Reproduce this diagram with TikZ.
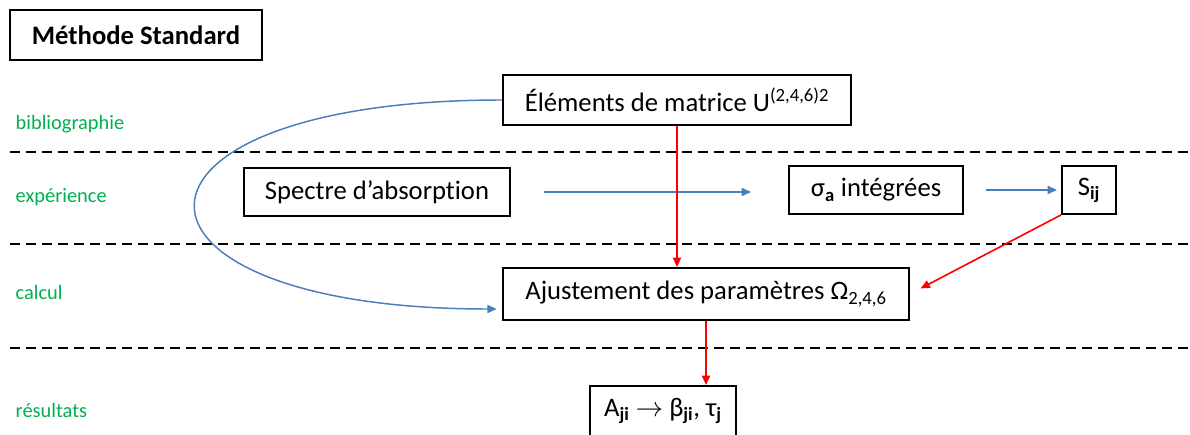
\documentclass[tikz,border=0pt]{standalone}
\usepackage{fontspec}
\setmainfont{Carlito}[Ligatures=NoCommon]
\usetikzlibrary{arrows.meta, positioning}
\definecolor{flowblue}{RGB}{74,126,187}
\definecolor{lanegreen}{RGB}{0,176,80}
\tikzset{
  box/.style={draw, line width=1.4pt, align=center, inner sep=2pt, font=\fontsize{20}{24}\selectfont},
  title/.style={draw, line width=1.4pt, align=center, font=\fontsize{20}{24}\selectfont\bfseries},
  lanelabel/.style={anchor=west, text=lanegreen, font=\fontsize{15.3}{18}\selectfont},
  lane/.style={line width=1.5pt, dash pattern=on 7.5pt off 4.5pt},
  flow/.style={-{Triangle[length=7pt, width=6pt]}, line width=1.1pt, flowblue},
  cause/.style={-{Triangle[length=7pt, width=6pt]}, line width=1.2pt, red},
}

\begin{document}
\begin{tikzpicture}[x=0.75pt, y=-0.75pt]
    \useasboundingbox (0,0) rectangle (1190,435);

    % separations
    \foreach \y in {152,244,348}
        \draw[lane] (10,\y) -- (1190,\y);

    \node[title, minimum width=189pt, minimum height=37.5pt] (method) at (136,35) {Méthode Standard};

    \node[lanelabel] (biblio) at (11,124) {bibliographie};
    \node[lanelabel] (exper) at (11,197) {expérience};
    \node[lanelabel] (calc) at (11,292) {calcul};
    \node[lanelabel] (result) at (11,410) {résultats};

    \node[box, minimum width=261pt, minimum height=37.5pt] (elem) at (677,100) {Éléments de matrice U\textsuperscript{(2,4,6)2}};
    \node[box, minimum width=199.5pt, minimum height=36pt] (spectre) at (377,192) {Spectre d’absorption};
    \node[box, minimum width=130.5pt, minimum height=36pt] (sigma) at (876,190) {σ\textsubscript{\textbf{a}} intégrées};
    \node[box, minimum width=40.5pt, minimum height=36pt] (sij) at (1089,190) {S\textsubscript{\textbf{ij}}};
    \node[box, minimum width=304.5pt, minimum height=39pt] (adjust) at (706,294) {Ajustement des paramètres Ω\textsubscript{2,4,6}};
    \node[box, minimum width=110pt, minimum height=37.5pt] (rates) at (663,411) {A\textsubscript{\textbf{ji}} $\rightarrow$ β\textsubscript{\textbf{ji}}, τ\textsubscript{\textbf{j}}};

    \draw[flow, shorten <=24.75pt, shorten >=27.75pt] (spectre.east) -- (sigma.west |- spectre.east);
    \draw[flow, shorten <=16.5pt, shorten >=3pt] (sigma.east) -- (sij.west);
    \draw[flow, shorten >=4pt] (elem.west) .. controls (94,100) and (94,309) .. ([yshift=-11.25pt]adjust.west);
    \draw[cause] (elem.south) -- (elem.south |- adjust.north);
    \draw[cause, shorten >=9pt] (sij.south west) -- (adjust.east);
    \draw[cause] (adjust.south) -- (adjust.south |- rates.north);
\end{tikzpicture}
\end{document}
